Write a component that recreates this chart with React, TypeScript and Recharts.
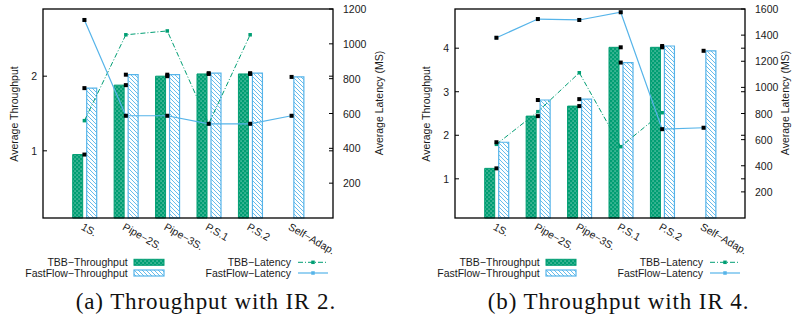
import React from 'react';
import { ComposedChart, Bar, Line, XAxis, YAxis } from 'recharts';

const categories = ['1S.', 'Pipe\u22122S.', 'Pipe\u22123S.', 'P.S.1', 'P.S.2', 'Self\u2212Adap.'];

const tbbThroughputIR2 = [0.95, 1.88, 2.0, 2.03, 2.03, null];
const ffThroughputIR2 = [1.84, 2.02, 2.02, 2.04, 2.04, 1.99];
const tbbLatencyIR2 = [559, 1052, 1074, 541, 1052, null];
const ffLatencyIR2 = [1137, 587, 587, 541, 541, 587];

const tbbThroughputIR4 = [1.24, 2.44, 2.67, 4.02, 4.02, null];
const ffThroughputIR4 = [1.84, 2.81, 2.83, 3.67, 4.05, 3.94];
const tbbLatencyIR4 = [564, 814, 1112, 546, 806, null];
const ffLatencyIR4 = [1380, 1523, 1516, 1575, 680, 691];

const throughputTicksIR2 = [1, 2];
const latencyTicksIR2 = [200, 400, 600, 800, 1000, 1200];
const throughputTicksIR4 = [1, 2, 3, 4];
const latencyTicksIR4 = [200, 400, 600, 800, 1000, 1200, 1400, 1600];

const legendLabels = {
  tbbT: 'TBB\u2212Throughput',
  ffT: 'FastFlow\u2212Throughput',
  tbbL: 'TBB\u2212Latency',
  ffL: 'FastFlow\u2212Latency',
};
const axisTitles = { left: 'Average Throughput', right: 'Average Latency (MS)' };

const GREEN = '#009e73';
const BLUE = '#56b4e9';
const SANS = { fontFamily: '"Liberation Sans", Arial, Helvetica, sans-serif' };
const TXT = '#1a1a1a';

const PW = 412;
const CH = 272;
const PL = 43;
const PR = 333;
const PT = 9;
const PB = 218;

function Defs({ p }: { p: string }) {
  return (
    <defs>
      <pattern id={p + 'dots'} patternUnits="userSpaceOnUse" width="4" height="4">
        <rect width="4" height="4" fill={GREEN} />
        <rect x="0.5" y="0.5" width="1.1" height="1.1" fill="#ffffff" fillOpacity="0.65" />
        <rect x="2.5" y="2.5" width="1.1" height="1.1" fill="#ffffff" fillOpacity="0.65" />
      </pattern>
      <pattern id={p + 'hatch'} patternUnits="userSpaceOnUse" width="4" height="4">
        <rect width="4" height="4" fill="#ffffff" />
        <path d="M-1,-1 L5,5 M-1,3 L1,5 M3,-1 L5,1" stroke={BLUE} strokeWidth="0.9" />
      </pattern>
    </defs>
  );
}

const LeftTick = (props: any) => {
  const { y, payload } = props;
  return (
    <g>
      <line x1={PL} x2={PL + 4} y1={y} y2={y} stroke="#000" strokeWidth={1} />
      <line x1={PR - 4} x2={PR} y1={y} y2={y} stroke="#000" strokeWidth={1} />
      <text x={PL - 6} y={y} textAnchor="end" dominantBaseline="central" fontSize={10.5} style={SANS} fill={TXT}>
        {payload.value}
      </text>
    </g>
  );
};

const RightTick = (props: any) => {
  const { y, payload } = props;
  return (
    <g>
      <line x1={PR - 4} x2={PR} y1={y} y2={y} stroke="#000" strokeWidth={1} />
      <text x={PR + 10} y={y} textAnchor="start" dominantBaseline="central" fontSize={10.5} style={SANS} fill={TXT}>
        {payload.value}
      </text>
    </g>
  );
};

const XTick = (props: any) => {
  const { x, payload } = props;
  const ax = x;
  const ay = PB + 4;
  return (
    <text x={ax} y={ay} transform={`rotate(30 ${ax} ${ay})`} textAnchor="start" dominantBaseline="hanging" fontSize={10.5} style={SANS} fill={TXT}>
      {payload.value}
    </text>
  );
};

const blackSquare = (props: any) => {
  const { cx, cy, index } = props;
  if (cx == null || cy == null || isNaN(cy)) return <g key={'b' + index} />;
  return <rect key={'b' + index} x={cx - 2} y={cy - 2} width={4} height={4} fill="#000" />;
};
const greenSquare = (props: any) => {
  const { cx, cy, index } = props;
  if (cx == null || cy == null || isNaN(cy)) return <g key={'g' + index} />;
  return <rect key={'g' + index} x={cx - 1.75} y={cy - 1.75} width={3.5} height={3.5} fill={GREEN} />;
};
const blueSquare = (props: any) => {
  const { cx, cy, index } = props;
  if (cx == null || cy == null || isNaN(cy)) return <g key={'s' + index} />;
  return <rect key={'s' + index} x={cx - 1.75} y={cy - 1.75} width={3.5} height={3.5} fill={BLUE} />;
};

function Panel(props: any) {
  const { p, left, tbbT, ffT, tbbL, ffL, tTicks, lTicks, tDomain, lDomain, caption, rightTitleX } = props;
  const rows = categories.map((name, i) => ({ name, tbbT: tbbT[i], ffT: ffT[i], tbbL: tbbL[i], ffL: ffL[i] }));
  return (
    <div style={{ position: 'absolute', left, top: 0, width: PW, height: 325 }}>
      <ComposedChart width={PW} height={CH} data={rows} margin={{ top: PT, right: PW - PR - 40, bottom: 0, left: PL - 35 }} barGap={4}>
        <Defs p={p + 'c'} />
        <XAxis dataKey="name" padding={{ left: 20.7, right: 20.7 }} height={CH - PB} interval={0} tickLine={false} axisLine={false} tick={XTick} />
        <YAxis yAxisId="t" width={35} type="number" domain={tDomain} ticks={tTicks} tick={LeftTick} tickLine={false} axisLine={false} />
        <YAxis yAxisId="l" orientation="right" width={40} type="number" domain={lDomain} ticks={lTicks} tick={RightTick} tickLine={false} axisLine={false} />
        <Bar yAxisId="t" dataKey="tbbT" barSize={10} fill={`url(#${p}cdots)`} stroke={GREEN} strokeWidth={1} isAnimationActive={false} />
        <Bar yAxisId="t" dataKey="ffT" barSize={10} fill={`url(#${p}chatch)`} stroke={BLUE} strokeWidth={1.2} isAnimationActive={false} />
        <Line yAxisId="l" dataKey="tbbL" type="linear" stroke={GREEN} strokeWidth={1} strokeDasharray="5 2 1 2" dot={greenSquare} activeDot={false} isAnimationActive={false} />
        <Line yAxisId="l" dataKey="ffL" type="linear" stroke={BLUE} strokeWidth={1.2} dot={blueSquare} activeDot={false} isAnimationActive={false} />
        <Line yAxisId="t" dataKey="tbbT" name="tbbTMark" stroke="none" dot={blackSquare} activeDot={false} legendType="none" isAnimationActive={false} />
        <Line yAxisId="t" dataKey="ffT" name="ffTMark" stroke="none" dot={blackSquare} activeDot={false} legendType="none" isAnimationActive={false} />
        <Line yAxisId="l" dataKey="ffL" name="ffLMark" stroke="none" dot={blackSquare} activeDot={false} legendType="none" isAnimationActive={false} />
      </ComposedChart>
      <svg width={PW} height={325} style={{ position: 'absolute', left: 0, top: 0, pointerEvents: 'none' }}>
        <Defs p={p + 'o'} />
        <rect x={PL} y={PT} width={PR - PL} height={PB - PT} fill="none" stroke="#000" strokeWidth={1.3} />
        <text x={17.5} y={114} transform="rotate(-90 17.5 114)" textAnchor="middle" fontSize={10.5} style={SANS} fill={TXT}>
          {axisTitles.left}
        </text>
        <text x={rightTitleX} y={103} transform={`rotate(-90 ${rightTitleX} 103)`} textAnchor="middle" fontSize={10.5} style={SANS} fill={TXT}>
          {axisTitles.right}
        </text>
        <g fontSize={10.5} style={SANS} fill={TXT}>
          <text x={127.7} y={262.3} textAnchor="end" dominantBaseline="central">{legendLabels.tbbT}</text>
          <text x={127.7} y={273} textAnchor="end" dominantBaseline="central">{legendLabels.ffT}</text>
          <text x={291} y={262.3} textAnchor="end" dominantBaseline="central">{legendLabels.tbbL}</text>
          <text x={291} y={273} textAnchor="end" dominantBaseline="central">{legendLabels.ffL}</text>
        </g>
        <rect x={134} y={259.3} width={30} height={6} fill={`url(#${p}odots)`} stroke={GREEN} strokeWidth={1} />
        <rect x={134} y={270} width={30} height={6} fill={`url(#${p}ohatch)`} stroke={BLUE} strokeWidth={1.2} />
        <line x1={298} x2={328} y1={262.3} y2={262.3} stroke={GREEN} strokeWidth={1} strokeDasharray="5 2 1 2" />
        <rect x={311.25} y={260.55} width={3.5} height={3.5} fill={GREEN} />
        <line x1={298} x2={328} y1={273} y2={273} stroke={BLUE} strokeWidth={1.2} />
        <rect x={311.25} y={271.25} width={3.5} height={3.5} fill={BLUE} />
      </svg>
      <div
        style={{
          position: 'absolute',
          left: 75.7,
          top: 289.3,
          fontFamily: "'Liberation Serif', 'Times New Roman', serif",
          fontSize: 23,
          lineHeight: '26px',
          letterSpacing: 0.9,
          color: '#111',
          whiteSpace: 'nowrap',
        }}
      >
        {caption}
      </div>
    </div>
  );
}

export default function App() {
  return (
    <div style={{ position: 'absolute', left: 0, top: 0, width: 792, height: 325, overflow: 'hidden', background: '#fff' }}>
      <Panel
        p="a"
        left={0}
        tbbT={tbbThroughputIR2}
        ffT={ffThroughputIR2}
        tbbL={tbbLatencyIR2}
        ffL={ffLatencyIR2}
        tTicks={throughputTicksIR2}
        lTicks={latencyTicksIR2}
        tDomain={[0.1, 2.9]}
        lDomain={[0, 1200]}
        caption="(a) Throughput with IR 2."
        rightTitleX={382.5}
      />
      <Panel
        p="b"
        left={412}
        tbbT={tbbThroughputIR4}
        ffT={ffThroughputIR4}
        tbbL={tbbLatencyIR4}
        ffL={ffLatencyIR4}
        tTicks={throughputTicksIR4}
        lTicks={latencyTicksIR4}
        tDomain={[0.1, 4.9]}
        lDomain={[0, 1600]}
        caption="(b) Throughput with IR 4."
        rightTitleX={377}
      />
    </div>
  );
}
